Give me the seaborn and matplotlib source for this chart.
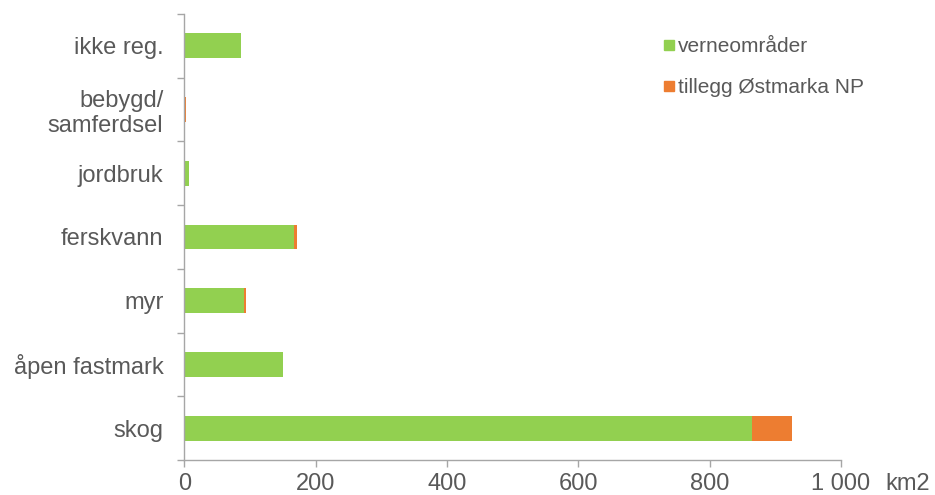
import matplotlib.pyplot as plt
import numpy as np
import pandas as pd
import seaborn as sns
from matplotlib.lines import Line2D
from matplotlib.ticker import FuncFormatter

# arealtyper, fra øverst til nederst
kategorier = ["ikke reg.", "bebygd/\nsamferdsel", "jordbruk", "ferskvann",
              "myr", "åpen fastmark", "skog"]
verneomrader = [86, 0.3, 7, 167, 91, 151, 864]
tillegg_ostmarka = [0, 2.5, 0.5, 5, 3, 0, 62]

gronn = "#92d050"
oransje = "#ed7d31"
tekst = "#595959"
akse = "#a6a6a6"

sns.set_theme(style="white")
plt.rcParams['font.family'] = ['Liberation Sans', 'DejaVu Sans']

df = pd.DataFrame({
    "kategori": kategorier,
    "verne": verneomrader,
    "total": np.array(verneomrader) + np.array(tillegg_ostmarka),
})

fig = plt.figure(figsize=(9.35, 4.95), dpi=100)
ax = fig.add_axes([0.197, 0.0707, 0.7025, 0.9013])

sns.barplot(data=df, y="kategori", x="total", color=oransje, width=0.39,
            saturation=1, ax=ax, orient="h", linewidth=0)
sns.barplot(data=df, y="kategori", x="verne", color=gronn, width=0.39,
            saturation=1, ax=ax, orient="h", linewidth=0)

ax.set_xlim(0, 1000)
ax.set_ylim(len(kategorier) - 0.5, -0.5)
ax.set_xticks(np.arange(0, 1001, 200))
ax.xaxis.set_major_formatter(FuncFormatter(lambda v, p: f"{int(v):,}".replace(",", " ")))
ax.set_xlabel("")
ax.set_ylabel("")

for s in ["top", "right"]:
    ax.spines[s].set_visible(False)
for s in ["left", "bottom"]:
    ax.spines[s].set_color(akse)
    ax.spines[s].set_linewidth(1)

ax.tick_params(axis="y", which="major", length=0, pad=15, labelsize=17, labelcolor=tekst)
ax.set_yticks(np.arange(-0.5, len(kategorier), 1), minor=True)
ax.tick_params(axis="y", which="minor", left=True, length=5, color=akse, width=1)
ax.tick_params(axis="x", which="major", length=5, color=akse, width=1, bottom=True,
               labelsize=17, labelcolor=tekst, pad=4.5)

fig.text(0.9465, 0.01, "km2", fontsize=17, color=tekst, ha="left", va="baseline")

handles = [Line2D([], [], marker="s", linestyle="", color=gronn, markersize=6.5),
           Line2D([], [], marker="s", linestyle="", color=oransje, markersize=6.5)]
leg = ax.legend(handles, ["verneområder", "tillegg Østmarka NP"], frameon=False,
                loc="upper left", bbox_to_anchor=(0.70, 0.99), fontsize=15,
                labelspacing=1.05, handletextpad=0.15, handlelength=0.6,
                labelcolor=tekst)

fig.savefig("out.png", dpi=100)
